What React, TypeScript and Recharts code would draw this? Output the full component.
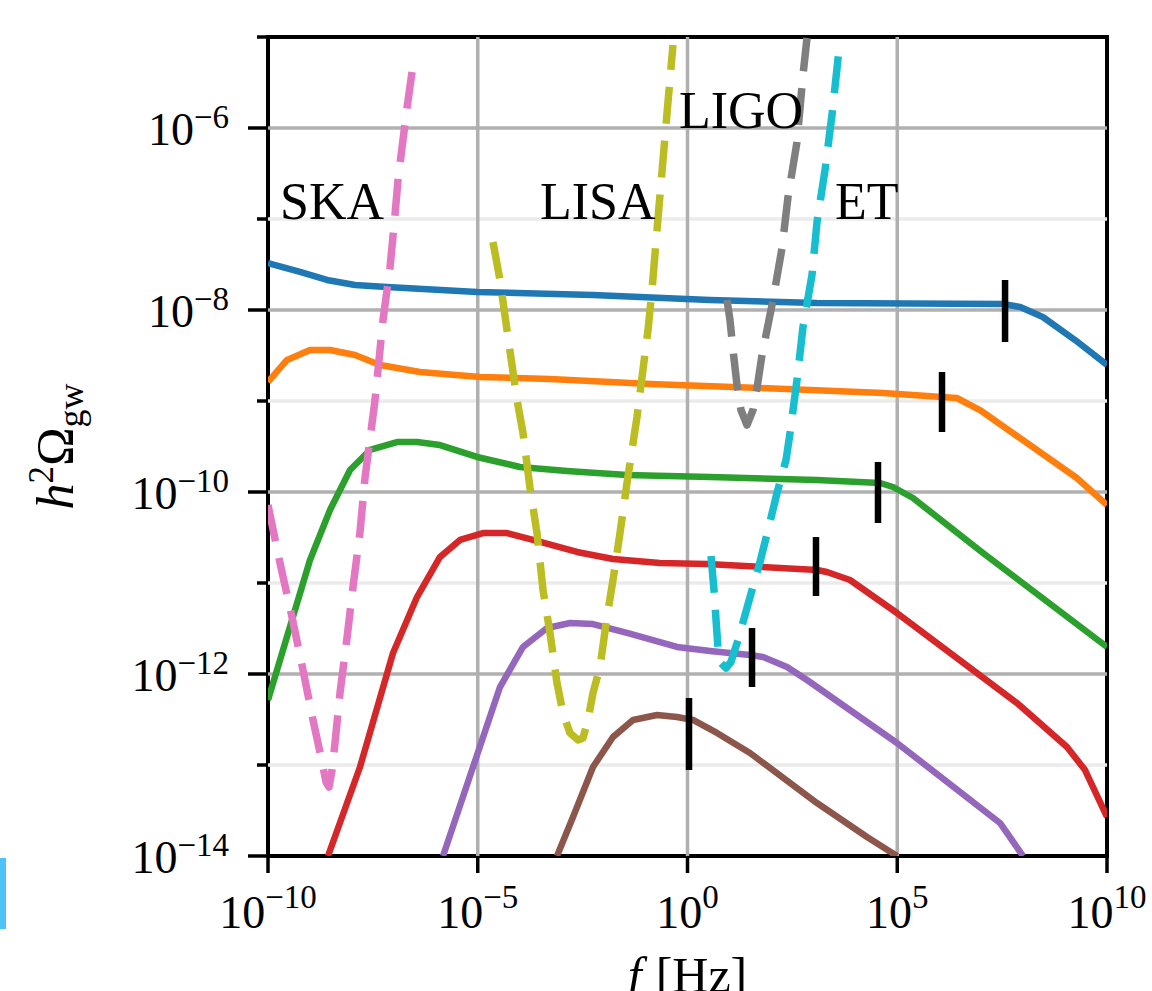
import React from 'react';
import { LineChart, Line, XAxis, YAxis, ReferenceLine, ReferenceArea, ReferenceDot } from 'recharts';

// All values as log10(f / Hz) and log10(h^2 Omega_gw)
const X_TICKS = [-10, -5, 0, 5, 10];
const Y_TICKS = [-14, -13, -12, -11, -10, -9, -8, -7, -6, -5];

const BLUE_F = [-10, -9.237, -8.594, -7.926, -7.163, -5.018, -2.253, 0.536, 3.087, 7.52, 7.93, 8.47, 9.24, 10];
const BLUE_O = [-7.484, -7.582, -7.670, -7.725, -7.747, -7.802, -7.835, -7.89, -7.923, -7.934, -7.967, -8.077, -8.33, -8.604];

const ORANGE_F = [-10, -9.547, -8.999, -8.522, -7.926, -7.33, -6.377, -4.946, -3.278, -0.894, 1.728, 4.66, 6.42, 6.97, 9.28, 10];
const ORANGE_O = [-8.791, -8.549, -8.44, -8.44, -8.495, -8.604, -8.681, -8.736, -8.758, -8.813, -8.857, -8.912, -8.967, -9.099, -9.846, -10.143];

const GREEN_F = [-10, -8.999, -8.522, -8.045, -7.569, -6.925, -6.448, -5.9, -5.018, -3.993, -2.872, -1.442, 0.536, 3.087, 4.589, 4.899, 5.375, 7.044, 10];
const GREEN_O = [-12.286, -10.747, -10.198, -9.758, -9.538, -9.451, -9.451, -9.484, -9.615, -9.725, -9.769, -9.813, -9.835, -9.868, -9.901, -9.945, -10.066, -10.67, -11.703];

const RED_F = [-8.57, -7.807, -7.02, -6.448, -5.9, -5.423, -4.875, -4.303, -3.683, -2.634, -1.776, -0.656, 0.465, 3.087, 3.325, 3.874, 4.994, 7.855, 9.046, 9.476, 10];
const RED_O = [-14, -13.022, -11.769, -11.154, -10.714, -10.527, -10.451, -10.451, -10.527, -10.659, -10.736, -10.78, -10.791, -10.857, -10.879, -10.967, -11.33, -12.319, -12.802, -13.055, -13.571];

const PURPLE_F = [-5.828, -5.113, -4.47, -3.921, -3.349, -2.801, -2.253, -1.442, -0.25, 0.536, 1.49, 1.8, 2.372, 2.849, 4.994, 7.449, 7.998];
const PURPLE_O = [-14, -13.022, -12.143, -11.703, -11.495, -11.44, -11.451, -11.549, -11.703, -11.747, -11.791, -11.813, -11.923, -12.066, -12.758, -13.637, -14];

const BROWN_F = [-3.111, -2.729, -2.253, -1.776, -1.299, -0.727, -0.25, 0.131, 0.703, 1.49, 3.087, 4.279, 4.994];
const BROWN_O = [-14, -13.571, -13.022, -12.692, -12.505, -12.451, -12.473, -12.505, -12.648, -12.868, -13.418, -13.791, -14];

const SKA_F = [-10, -9.714, -9.428, -9.166, -8.927, -8.737, -8.617, -8.546, -8.474, -8.403, -8.284, -8.117, -7.974, -7.807, -7.688, -7.449, -7.259, -7.092, -6.973, -6.901, -6.687, -6.567];
const SKA_O = [-10.143, -10.78, -11.374, -11.956, -12.505, -12.912, -13.187, -13.242, -13.055, -12.758, -12.209, -11.604, -11.044, -10.44, -9.846, -8.989, -8.11, -7.538, -6.956, -6.571, -5.78, -5.385];

const LISA_F = [-4.637, -4.47, -4.303, -4.064, -3.921, -3.754, -3.588, -3.444, -3.278, -3.111, -2.968, -2.801, -2.61, -2.491, -2.372, -2.253, -2.086, -1.919, -1.776, -1.609, -1.442, -1.204, -0.942, -0.846, -0.727, -0.584, -0.465, -0.346];
const LISA_O = [-7.253, -7.67, -8.22, -8.989, -9.352, -9.956, -10.451, -11.077, -11.549, -12.099, -12.429, -12.648, -12.725, -12.703, -12.505, -12.209, -11.923, -11.374, -10.967, -10.451, -9.901, -9.176, -8.22, -7.78, -7.121, -6.352, -5.714, -5.088];

const LIGO_F = [0.942, 1.013, 1.085, 1.18, 1.275, 1.418, 1.561, 1.657, 1.776, 1.895, 2.038, 2.253, 2.396, 2.61, 2.753, 2.849];
const LIGO_O = [-7.89, -8.11, -8.44, -8.824, -9.099, -9.264, -9.099, -8.857, -8.495, -8.22, -7.89, -7.319, -6.758, -6.154, -5.418, -5.011];

const ET_F = [0.56, 0.632, 0.68, 0.727, 0.799, 0.918, 1.037, 1.204, 1.371, 1.538, 1.728, 1.919, 2.134, 2.348, 2.444, 2.61, 2.753, 2.968, 3.087, 3.278, 3.444, 3.636];
const ET_O = [-10.703, -11.077, -11.407, -11.714, -11.879, -11.934, -11.868, -11.626, -11.352, -11.077, -10.769, -10.418, -10.011, -9.648, -9.352, -8.769, -8.187, -7.615, -7.033, -6.462, -5.857, -5.033];

// peak-frequency markers
const MARK_F = [7.57, 6.067, 4.541, 3.063, 1.538, 0.036];
const MARK_HI = [-7.67, -8.681, -9.67, -10.495, -11.495, -12.264];
const MARK_LO = [-8.352, -9.341, -10.341, -11.143, -12.143, -13.055];

const LABELS = ['SKA', 'LISA', 'LIGO', 'ET'];
const LABEL_F = [-9.714, -3.516, -0.203, 3.516];
const LABEL_O = [-7.0, -7.0, -6.0, -7.0];

const SERIF = "'Liberation Serif', 'Times New Roman', serif";

const pts = (fs: number[], os: number[]) => fs.map((f, i) => ({ x: f, y: os[i] }));

const SPECTRA = [
  { d: pts(BLUE_F, BLUE_O), c: '#1f77b4' },
  { d: pts(ORANGE_F, ORANGE_O), c: '#ff7f0e' },
  { d: pts(GREEN_F, GREEN_O), c: '#2ca02c' },
  { d: pts(RED_F, RED_O), c: '#d62728' },
  { d: pts(PURPLE_F, PURPLE_O), c: '#9467bd' },
  { d: pts(BROWN_F, BROWN_O), c: '#8c564b' },
];

const SENS = [
  { d: pts(SKA_F, SKA_O), c: '#e377c2' },
  { d: pts(LIGO_F, LIGO_O), c: '#7f7f7f' },
  { d: pts(LISA_F, LISA_O), c: '#bcbd22' },
  { d: pts(ET_F, ET_O), c: '#17becf' },
];

const MARKS = MARK_F.map((f, i) => [{ x: f, y: MARK_HI[i] }, { x: f, y: MARK_LO[i] }]);

const supText = (v: number) => (v < 0 ? '\u2212' + Math.abs(v) : String(v));

const YTick = (props: any) => {
  const { x, y, payload } = props;
  const v = payload.value as number;
  const major = v % 2 === 0;
  return (
    <g>
      <line x1={x - (major ? 20 : 11)} y1={y} x2={x} y2={y} stroke="#000" strokeWidth={3.5} />
      {major && (
        <text x={x - 39} y={y + 17} textAnchor="end" fontFamily={SERIF} fill="#000">
          <tspan fontSize={46}>10</tspan>
          <tspan fontSize={33} dy={-17}>{supText(v)}</tspan>
        </text>
      )}
    </g>
  );
};

const XTick = (props: any) => {
  const { x, y, payload } = props;
  const v = payload.value as number;
  return (
    <g>
      <line x1={x} y1={y} x2={x} y2={y + 17} stroke="#000" strokeWidth={3.5} />
      <text x={x} y={y + 72} textAnchor="middle" fontFamily={SERIF} fill="#000">
        <tspan fontSize={46}>10</tspan>
        <tspan fontSize={33} dy={-20}>{supText(v)}</tspan>
      </text>
    </g>
  );
};

const XTitle = (props: any) => {
  const vb = props.viewBox || {};
  const cx = (vb.x || 0) + (vb.width || 0) / 2;
  const top = vb.y || 0;
  return (
    <text x={cx} y={top + 136} textAnchor="middle" fontFamily={SERIF} fontSize={50} fill="#000">
      <tspan fontStyle="italic">f</tspan>
      <tspan dx={14}>[Hz]</tspan>
    </text>
  );
};

const YTitle = (props: any) => {
  const vb = props.viewBox || {};
  const cy = (vb.y || 0) + (vb.height || 0) / 2;
  return (
    <text transform={`translate(73, ${cy}) rotate(-90)`} x={0} y={0} textAnchor="middle" fontFamily={SERIF} fontSize={52} fill="#000">
      <tspan fontStyle="italic">h</tspan>
      <tspan fontSize={35} dy={-20}>2</tspan>
      <tspan fontSize={52} dy={20}>Ω</tspan>
      <tspan fontSize={36} dy={10}>gw</tspan>
    </text>
  );
};

const TextMark = (label: string) => (p: any) => (
  <text x={p.cx} y={p.cy} fontFamily={SERIF} fontSize={52} fill="#000">{label}</text>
);

export default function App() {
  return (
    <div style={{ position: 'absolute', left: 0, top: 0, width: 1152, height: 991, background: '#fff', overflow: 'hidden' }}>
      <LineChart width={1152} height={991} margin={{ top: 37, right: 45, bottom: 0, left: 0 }}>
        <XAxis
          type="number"
          dataKey="x"
          domain={[-10, 10]}
          ticks={X_TICKS}
          interval={0}
          allowDataOverflow
          height={135}
          tickSize={0}
          tickMargin={0}
          tickLine={false}
          axisLine={false}
          tick={<XTick />}
          label={{ content: <XTitle /> }}
        />
        <YAxis
          type="number"
          dataKey="y"
          domain={[-14, -5]}
          ticks={Y_TICKS}
          interval={0}
          allowDataOverflow
          width={268}
          tickSize={0}
          tickMargin={0}
          tickLine={false}
          axisLine={false}
          tick={<YTick />}
          label={{ content: <YTitle /> }}
        />
        {[-13, -11, -9, -7].map((v) => (
          <ReferenceLine key={'mn' + v} y={v} stroke="#ebebeb" strokeWidth={3.5} />
        ))}
        {[-12, -10, -8, -6].map((v) => (
          <ReferenceLine key={'mj' + v} y={v} stroke="#b0b0b0" strokeWidth={3.5} />
        ))}
        {[-5, 0, 5].map((v) => (
          <ReferenceLine key={'vx' + v} x={v} stroke="#b0b0b0" strokeWidth={3.5} />
        ))}
        {SPECTRA.map((s, i) => (
          <Line
            key={'s' + i}
            data={s.d}
            dataKey="y"
            type="linear"
            stroke={s.c}
            strokeWidth={6.5}
            strokeLinejoin="round"
            dot={false}
            activeDot={false}
            isAnimationActive={false}
          />
        ))}
        {MARKS.map((m, i) => (
          <Line
            key={'m' + i}
            data={m}
            dataKey="y"
            type="linear"
            stroke="#000"
            strokeWidth={6.5}
            dot={false}
            activeDot={false}
            isAnimationActive={false}
          />
        ))}
        {SENS.map((s, i) => (
          <Line
            key={'d' + i}
            data={s.d}
            dataKey="y"
            type="linear"
            stroke={s.c}
            strokeWidth={7.5}
            strokeDasharray="37 17"
            strokeLinejoin="round"
            dot={false}
            activeDot={false}
            isAnimationActive={false}
          />
        ))}
        {LABELS.map((l, i) => (
          <ReferenceDot key={'l' + l} x={LABEL_F[i]} y={LABEL_O[i]} r={0} shape={TextMark(l)} />
        ))}
        <ReferenceArea x1={-10} x2={10} y1={-14} y2={-5} fill="none" fillOpacity={0} stroke="#000" strokeWidth={4} />
      </LineChart>
      <div style={{ position: 'absolute', left: 0, top: 858, width: 6, height: 71, background: '#4fc3f7' }} />
    </div>
  );
}
